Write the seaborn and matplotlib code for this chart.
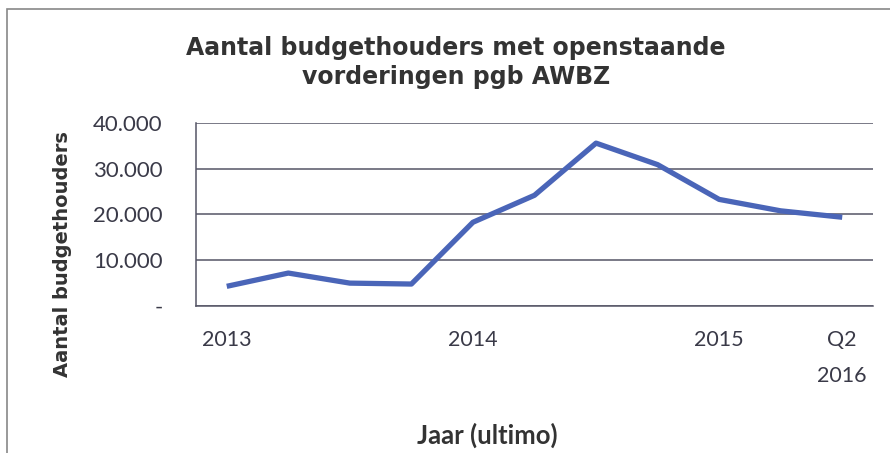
import matplotlib
matplotlib.use("Agg")
import matplotlib.pyplot as plt
import pandas as pd
import seaborn as sns

# quarterly values, 2013 .. Q2 2016
quarters = ["2013", "2013 Q1", "2013 Q2", "2013 Q3", "2014", "2014 Q1", "2014 Q2",
            "2014 Q3", "2015", "2015 Q4", "Q2 2016"]
values = [4300, 7200, 5000, 4800, 18300, 24200, 35600, 30900, 23300, 20800, 19400]
tick_labels = ["2013", "", "", "", "2014", "", "", "", "2015", "", "Q2\n2016"]
y_ticks = [0, 10000, 20000, 30000, 40000]
y_tick_labels = ["-", "10.000", "20.000", "30.000", "40.000"]

df = pd.DataFrame({"kwartaal": quarters, "aantal": values})
df["pos"] = range(len(df))

sns.set_theme(style="white")
plt.rcParams["font.family"] = ["DejaVu Sans"]

fig = plt.figure(figsize=(8.9, 4.53), dpi=100)
ax = fig.add_axes([0.2202, 0.3245, 0.7607, 0.404])

sns.lineplot(data=df, x="pos", y="aantal", ax=ax, color="#4a65b8", linewidth=3.8,
             solid_capstyle="butt")

ax.set_xlim(-0.5, len(df) - 0.5)
ax.set_ylim(0, 40000)
ax.set_yticks(y_ticks)
ax.set_yticklabels(y_tick_labels, fontsize=16, family="Lato", color="#3a3a48")
ax.set_xticks(df["pos"])
ax.set_xticklabels(tick_labels, fontsize=15.5, family="Lato", color="#3a3a48",
                   linespacing=2.0, va="top")
ax.tick_params(axis="x", length=0, pad=17)
ax.tick_params(axis="y", length=0, pad=24)
ax.yaxis.grid(True, color="#555566", linewidth=1.1)
ax.set_axisbelow(True)

for side in ["top", "right"]:
    ax.spines[side].set_visible(False)
ax.spines["left"].set_color("#555566")
ax.spines["bottom"].set_color("#555566")
ax.spines["left"].set_linewidth(1.1)
ax.spines["bottom"].set_linewidth(1.1)

ax.set_xlabel("")
ax.set_ylabel("")
fig.text(0.07, 0.44, "Aantal budgethouders", rotation=90, ha="center", va="center",
         fontsize=14, fontweight="bold", color="#333333")
fig.text(0.547, 0.04, "Jaar (ultimo)", ha="center", va="center",
         fontsize=18.5, fontweight="bold", family="Lato", color="#333333")
fig.text(0.512, 0.862, "Aantal budgethouders met openstaande\nvorderingen pgb AWBZ",
         ha="center", va="center", fontsize=17, fontweight="bold", color="#333333",
         linespacing=1.3)

# outer chart frame
fig.add_artist(plt.Rectangle((0.008, -0.05), 1.2, 1.03, transform=fig.transFigure,
                             fill=False, edgecolor="#888888", linewidth=1.2))

fig.savefig("out.png", dpi=100)
